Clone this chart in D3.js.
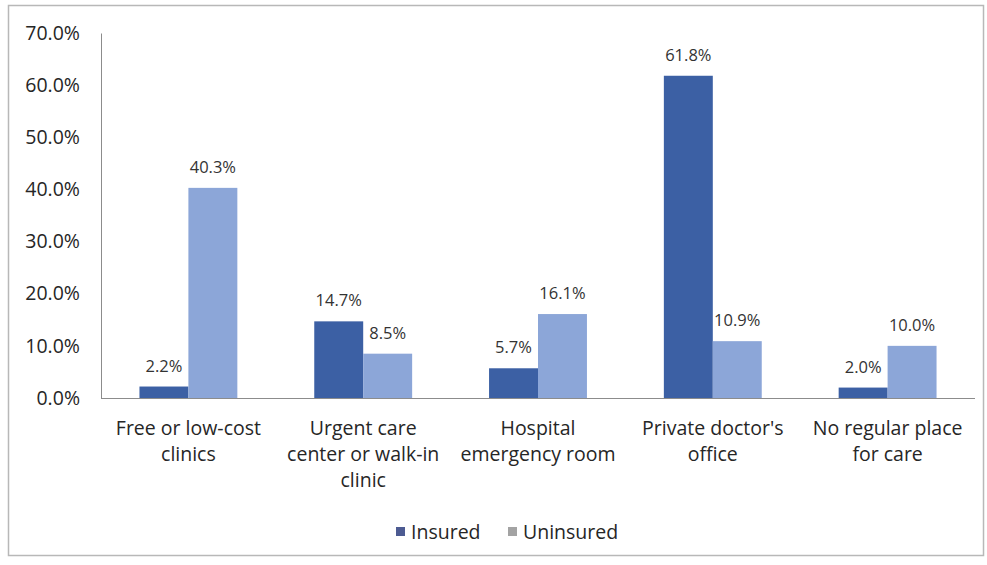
<!DOCTYPE html>
<html>
<head>
<meta charset="utf-8">
<script src="https://cdn.jsdelivr.net/npm/d3@7"></script>
<style>
  body { margin: 0; background: #fff; }
  svg text { font-family: "Open Sans", "DejaVu Sans", sans-serif; fill: #262626; }
</style>
</head>
<body>
<div id="chart"></div>
<script>
// values
const categories = [
    ["Free or low-cost", "clinics"],
    ["Urgent care", "center or walk-in", "clinic"],
    ["Hospital", "emergency room"],
    ["Private doctor's", "office"],
    ["No regular place", "for care"]
];
const seriesNames = ["Insured", "Uninsured"];
const insured = [2.2, 14.7, 5.7, 61.8, 2.0];
const uninsured = [40.3, 8.5, 16.1, 10.9, 10.0];
const yTicks = [0, 10, 20, 30, 40, 50, 60, 70];

const barColors = ["#3c60a4", "#8ca6d8"];
const legendColors = ["#4d5b92", "#a3a3a3"];

const margin = {top: 33, right: 12, bottom: 167, left: 101};
const totalW = 987, totalH = 565;
const width = totalW - margin.left - margin.right;
const height = totalH - margin.top - margin.bottom;

const root = d3.select("#chart").append("svg")
    .attr("width", totalW)
    .attr("height", totalH);

// outer chart border
root.append("rect")
    .attr("x", 8.5).attr("y", 5.5)
    .attr("width", 975).attr("height", 550)
    .attr("fill", "#fff")
    .attr("stroke", "#b8b8b8")
    .attr("stroke-width", 1.5);

const svg = root.append("g")
    .attr("transform", `translate(${margin.left},${margin.top})`);

const x0 = d3.scaleBand()
    .domain(d3.range(categories.length))
    .range([0, width])
    .paddingInner(0.44)
    .paddingOuter(0.22);

const x1 = d3.scaleBand()
    .domain(seriesNames)
    .range([0, x0.bandwidth()]);

const y = d3.scaleLinear().domain([0, 70]).range([height, 0]);

// y axis
const yAxis = svg.append("g")
    .call(d3.axisLeft(y).tickValues(yTicks).tickSize(0).tickPadding(21)
        .tickFormat(d => d.toFixed(1) + "%"));
yAxis.select(".domain").attr("stroke", "#8c8c8c");
yAxis.selectAll("text").style("font-size", "19.5px");

// bars
const rows = categories.map((c, i) => ({i, values: [insured[i], uninsured[i]]}));

const groups = svg.selectAll(".grp")
    .data(rows)
    .enter().append("g")
    .attr("class", "grp")
    .attr("transform", d => `translate(${x0(d.i)},0)`);

groups.selectAll("rect")
    .data(d => d.values.map((v, k) => ({name: seriesNames[k], v, k})))
    .enter().append("rect")
    .attr("x", d => x1(d.name))
    .attr("y", d => y(d.v))
    .attr("width", x1.bandwidth())
    .attr("height", d => height - y(d.v))
    .attr("fill", d => barColors[d.k]);

groups.selectAll(".lbl")
    .data(d => d.values.map((v, k) => ({name: seriesNames[k], v, k})))
    .enter().append("text")
    .attr("class", "lbl")
    .attr("x", d => x1(d.name) + x1.bandwidth() / 2)
    .attr("y", d => y(d.v) - 15)
    .attr("text-anchor", "middle")
    .style("font-size", "16.5px")
    .style("fill", "#333")
    .text(d => d.v.toFixed(1) + "%");

// x axis line
svg.append("line")
    .attr("x1", 0).attr("x2", width)
    .attr("y1", height + 0.5).attr("y2", height + 0.5)
    .attr("stroke", "#8c8c8c");

// category labels
svg.selectAll(".cat")
    .data(categories)
    .enter().append("text")
    .attr("class", "cat")
    .attr("text-anchor", "middle")
    .attr("transform", (d, i) => `translate(${x0(i) + x0.bandwidth() / 2},${height + 37})`)
    .style("font-size", "19.5px")
    .selectAll("tspan")
    .data(d => d)
    .enter().append("tspan")
    .attr("x", 0)
    .attr("dy", (d, k) => k === 0 ? 0 : 26)
    .text(d => d);

// legend
const legend = root.append("g").attr("transform", "translate(396,532)");
const legendX = [0, 112];
seriesNames.forEach((name, k) => {
    legend.append("rect")
        .attr("x", legendX[k]).attr("y", -5)
        .attr("width", 9).attr("height", 9)
        .attr("fill", legendColors[k]);
    legend.append("text")
        .attr("x", legendX[k] + 15).attr("y", 7)
        .style("font-size", "19.5px")
        .text(name);
});
</script>
</body>
</html>
